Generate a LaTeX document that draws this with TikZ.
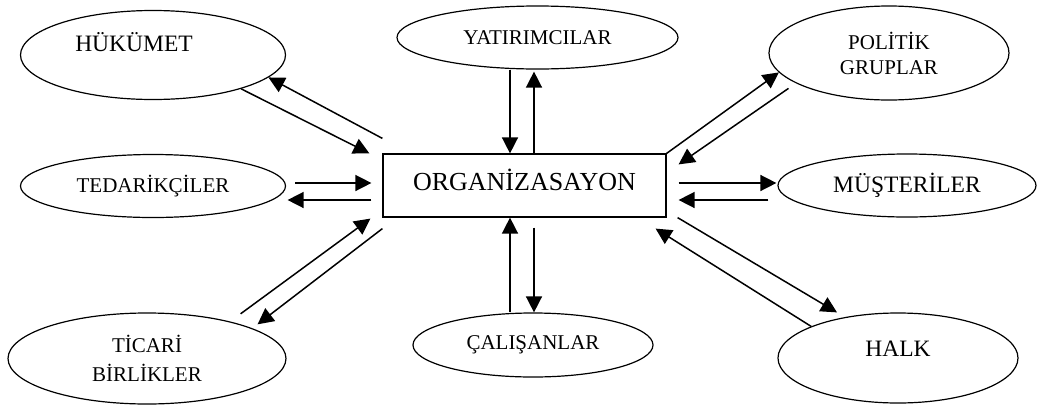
\documentclass[tikz,border=0pt]{standalone}
\usepackage{fontspec}
\setmainfont{Liberation Serif}
\usetikzlibrary{arrows.meta,positioning,shapes.geometric}
\tikzset{
  party/.style={draw, ellipse, line width=1.2pt, inner sep=0pt, align=center, font=\fontsize{21}{25}\selectfont},
  orgbox/.style={draw, rectangle, line width=1.2pt, minimum width=283pt, minimum height=63pt, text depth=12pt, font=\fontsize{26}{30}\selectfont},
  arr/.style={-{Triangle[length=16pt,width=16pt]}, line width=1.5pt},
  biglbl/.style={font=\fontsize{23.5}{28}\selectfont}
}

\begin{document}
\begin{tikzpicture}[x=1pt,y=-1pt]
  \useasboundingbox (0,0) rectangle (1037,405);

  \node[orgbox] (org) at (524.5,185.5) {ORGANİZASAYON};

  \node[party, minimum width=265pt, minimum height=89pt,
        label={[biglbl, xshift=-19pt, yshift=13pt]center:HÜKÜMET}] (huk) at (153,55) {};
  \node[party, minimum width=281pt, minimum height=63pt] (yat) at (537.5,37.5) {YATIRIMCILAR};
  \node[party, minimum width=240pt, minimum height=94pt] (pol) at (889,53) {POLİTİK\\GRUPLAR};
  \node[party, minimum width=265pt, minimum height=63pt] (ted) at (153,186) {TEDARİKÇİLER};
  \node[party, minimum width=258pt, minimum height=63pt, biglbl] (mus) at (907,185.5) {MÜŞTERİLER};
  \node[party, minimum width=278pt, minimum height=91pt, font=\fontsize{21}{29}\selectfont] (tic) at (147,358.5) {TİCARİ\\BİRLİKLER};
  \node[party, minimum width=240pt, minimum height=64pt] (cal) at (533,345) {ÇALIŞANLAR};
  \node[party, minimum width=240pt, minimum height=90pt,
        label={[biglbl, yshift=9.5pt]center:HALK}] (halk) at (898,358) {};

  % hükümet
  \draw[arr] ([yshift=15pt]org.north west) -- (huk.-11);
  \draw[arr] (huk.-21) -- ([xshift=-13pt]org.north west);
  % yatırımcılar
  \draw[arr] ([xshift=-14.5pt]org.north |- yat.south) -- ([xshift=-14.5pt]org.north);
  \draw[arr] ([xshift=9.5pt]org.north) -- ([xshift=9.5pt,yshift=-2pt]org.north |- yat.south);
  % politik gruplar
  \draw[arr] (org.north east) -- (pol.190);
  \draw[arr, shorten <=9pt] (pol.198) -- ([xshift=12pt,yshift=-11pt]org.north east);
  % tedarikçiler
  \draw[arr] ([xshift=9pt,yshift=3pt]ted.east) -- ([xshift=-11pt,yshift=2.5pt]org.west);
  \draw[arr] ([xshift=-11pt,yshift=-14.5pt]org.west) -- ([xshift=1.5pt,yshift=-14pt]ted.east);
  % müşteriler
  \draw[arr] ([xshift=12pt,yshift=2.5pt]org.east) -- ([xshift=-1pt,yshift=2.5pt]mus.west);
  \draw[arr] ([xshift=-9pt,yshift=-14.5pt]mus.west) -- ([xshift=12pt,yshift=-14.5pt]org.east);
  % halk
  \draw[arr] ([xshift=11pt]org.south east) -- ([xshift=-61pt]halk.north);
  \draw[arr] (halk.160) -- ([xshift=-11pt,yshift=-11pt]org.south east);
  % çalışanlar
  \draw[arr] ([xshift=-14.5pt]org.south |- cal.north) -- ([xshift=-14.5pt]org.south);
  \draw[arr] ([xshift=9.5pt,yshift=-10pt]org.south) -- ([xshift=9.5pt]org.south |- cal.north);
  % ticari birlikler
  \draw[arr, shorten <=13pt] (tic.24) -- ([xshift=-12pt,yshift=-1pt]org.south west);
  \draw[arr, shorten >=6.5pt] ([yshift=-11pt]org.south west) -- (tic.16);
\end{tikzpicture}
\end{document}
